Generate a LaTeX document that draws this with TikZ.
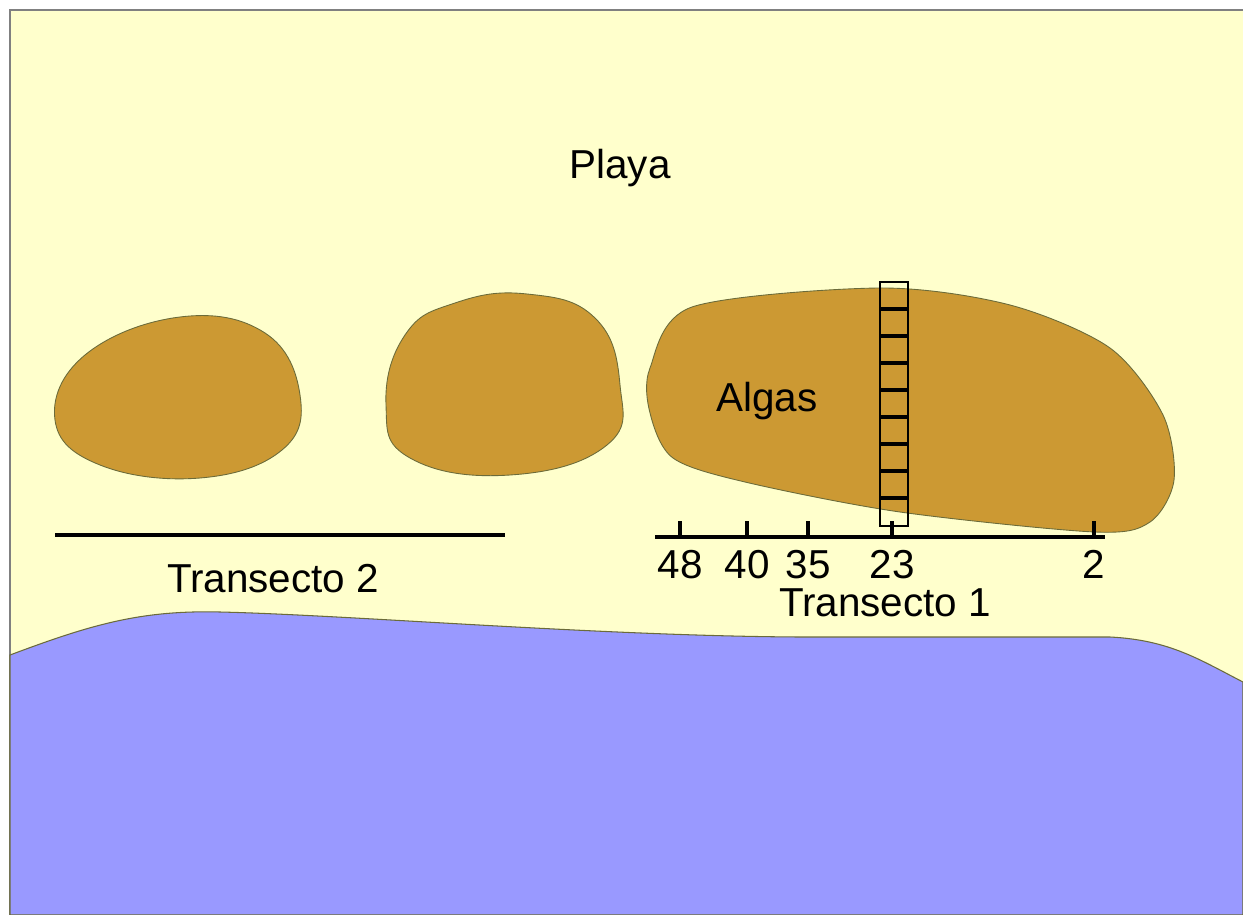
\documentclass[tikz,border=0pt]{standalone}
\usepackage{fontspec}
\setmainfont{Liberation Sans}
\usetikzlibrary{positioning}

\definecolor{playa}{HTML}{FFFFCC}
\definecolor{alga}{HTML}{CC9933}
\definecolor{mar}{HTML}{9999FF}
\definecolor{borde}{HTML}{6B6B3A}

\tikzset{
  patch/.style={fill=alga, draw=borde, line width=0.5pt},
  label text/.style={font=\fontsize{23}{27}\selectfont, inner sep=0pt},
  transect/.style={line width=2.2pt},
}

\begin{document}
\begin{tikzpicture}[x=0.02cm, y=-0.02cm]
  \useasboundingbox (0,0) rectangle (1243,915);
  \fill[white] (0,0) rectangle (1243,915);
  \fill[playa] (10,10) rectangle (1243,915);
  \draw[gray, line width=1pt] (10,915) -- (10,10) -- (1243,10);

  % sea
  \filldraw[fill=mar, draw=borde, line width=0.6pt]
    (10,655) .. controls (90,625) and (140,610) .. (220,612)
    .. controls (350,615) and (600,636) .. (800,637)
    -- (1110,637) .. controls (1170,640) and (1200,660) .. (1243,682)
    -- (1243,915) -- (10,915) -- cycle;

  % algae patches
  \draw[patch] plot[smooth cycle, tension=0.7] coordinates
    {(55,420) (85,355) (180,317) (265,333) (300,395) (282,450) (200,478) (100,465)};
  \draw[patch] plot[smooth cycle, tension=0.75] coordinates
    {(386,405) (405,335) (455,303) (527,294) (595,318) (620,385) (607,445) (510,475) (410,458)};
  \draw[patch] plot[smooth cycle, tension=0.5] coordinates
    {(650,368) (692,307) (880,288) (1010,305) (1110,348) (1163,415) (1174,480) (1150,522)
     (1095,532) (900,512) (745,482) (673,458) (650,413)};

  \node[label text] (playa) at (620,168) {Playa};
  \node[label text] (algas) at (767,401) {Algas};

  % quadrat ladder
  \draw[line width=1pt] (880,282) rectangle (908,526);
  \foreach \y in {309,336,363,390,417,444,471,498}
    \draw[line width=2pt] (880,\y) -- (908,\y);

  % transect 2
  \draw[transect] (55,535) -- (505,535);
  \node[label text] (tr2) at (273,579) {Transecto 2};

  % transect 1
  \draw[transect] (655,537) coordinate (t1a) -- (1105,537) coordinate (t1b);
  \foreach \x/\v in {680/48, 747/40, 808/35, 892/23, 1094/2} {
    \draw[transect] (\x,537) -- (\x,521);
    \node[label text, anchor=north] (n\v) at (\x,550) {\v};
  }
  \node[label text] (tr1) at (885,603) {Transecto 1};
\end{tikzpicture}
\end{document}
